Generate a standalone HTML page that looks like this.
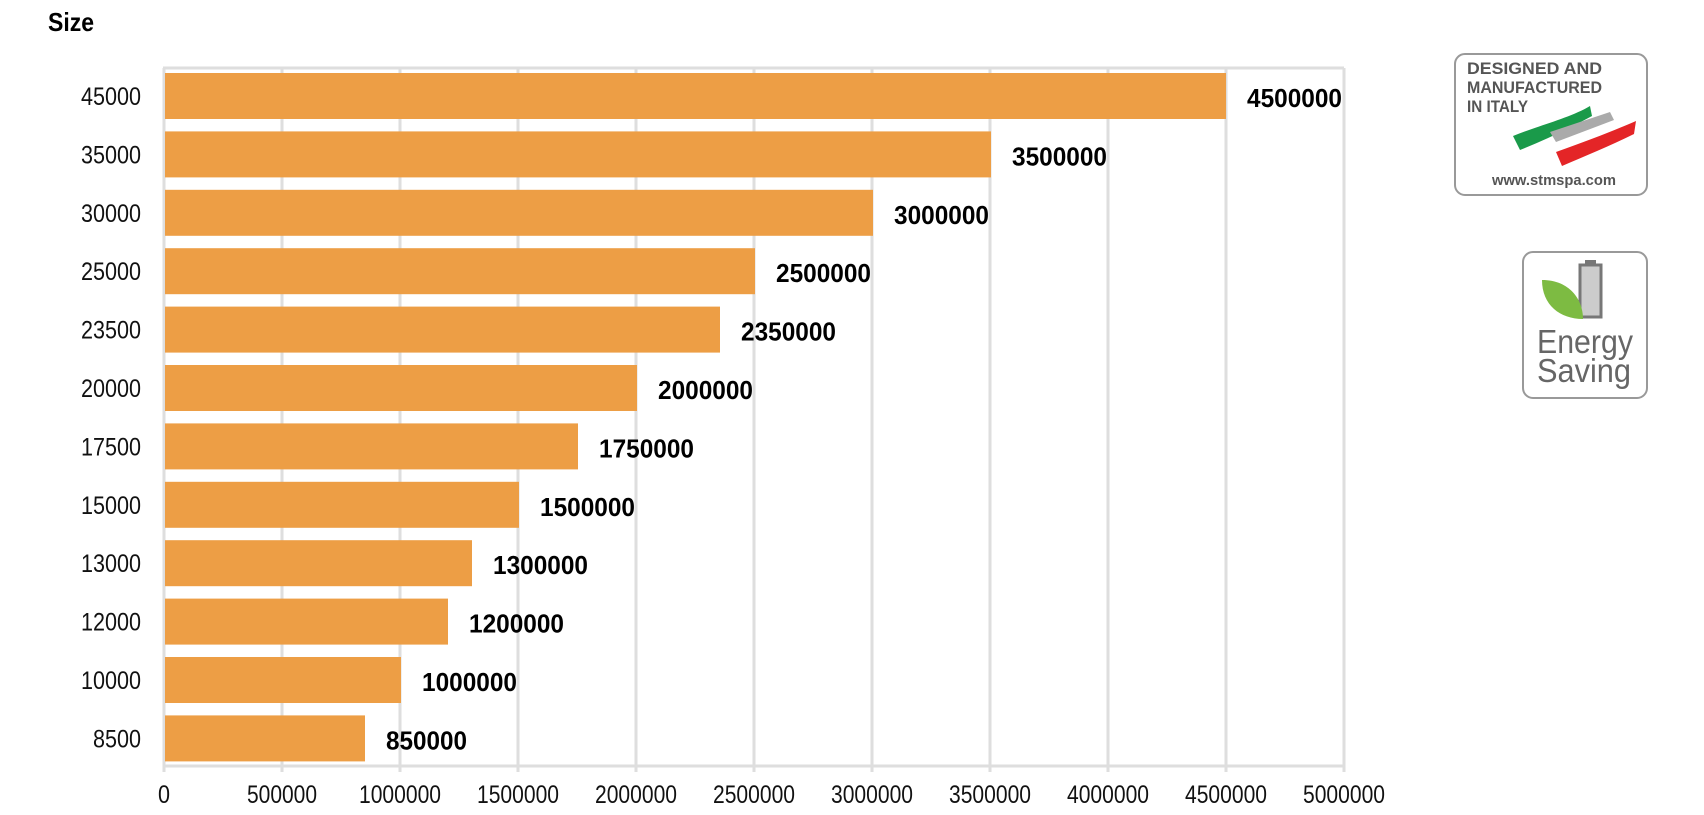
<!DOCTYPE html>
<html><head><meta charset="utf-8"><style>
html,body{margin:0;padding:0;background:#fff;}
svg{display:block;}
text{font-family:"Liberation Sans Narrow","Liberation Sans",sans-serif;}
</style></head><body>
<svg width="1704" height="815" viewBox="0 0 1704 815" xmlns="http://www.w3.org/2000/svg">
<text x="48" y="31" font-size="26" font-weight="bold" textLength="46" lengthAdjust="spacingAndGlyphs">Size</text>
<g stroke="#dedede" stroke-width="3">
<line x1="163" y1="68" x2="1344" y2="68"/>
<line x1="163" y1="766" x2="1344" y2="766"/>
<line x1="164" y1="68" x2="164" y2="772"/>
<line x1="282" y1="68" x2="282" y2="772"/>
<line x1="400" y1="68" x2="400" y2="772"/>
<line x1="518" y1="68" x2="518" y2="772"/>
<line x1="636" y1="68" x2="636" y2="772"/>
<line x1="754" y1="68" x2="754" y2="772"/>
<line x1="872" y1="68" x2="872" y2="772"/>
<line x1="990" y1="68" x2="990" y2="772"/>
<line x1="1108" y1="68" x2="1108" y2="772"/>
<line x1="1226" y1="68" x2="1226" y2="772"/>
<line x1="1344" y1="68" x2="1344" y2="772"/>
</g>
<g fill="#ED9E45">
<rect x="165" y="73" width="1061" height="46"/>
<rect x="165" y="131.4" width="826" height="46"/>
<rect x="165" y="189.8" width="708" height="46"/>
<rect x="165" y="248.2" width="590" height="46"/>
<rect x="165" y="306.6" width="555" height="46"/>
<rect x="165" y="365" width="472" height="46"/>
<rect x="165" y="423.4" width="413" height="46"/>
<rect x="165" y="481.8" width="354" height="46"/>
<rect x="165" y="540.2" width="307" height="46"/>
<rect x="165" y="598.6" width="283" height="46"/>
<rect x="165" y="657" width="236" height="46"/>
<rect x="165" y="715.4" width="200" height="46"/>
</g>
<g font-size="25" fill="#111" lengthAdjust="spacingAndGlyphs">
<text x="81" y="105" textLength="60" lengthAdjust="spacingAndGlyphs">45000</text>
<text x="81" y="163.4" textLength="60" lengthAdjust="spacingAndGlyphs">35000</text>
<text x="81" y="221.8" textLength="60" lengthAdjust="spacingAndGlyphs">30000</text>
<text x="81" y="280.2" textLength="60" lengthAdjust="spacingAndGlyphs">25000</text>
<text x="81" y="338.6" textLength="60" lengthAdjust="spacingAndGlyphs">23500</text>
<text x="81" y="397" textLength="60" lengthAdjust="spacingAndGlyphs">20000</text>
<text x="81" y="455.4" textLength="60" lengthAdjust="spacingAndGlyphs">17500</text>
<text x="81" y="513.8" textLength="60" lengthAdjust="spacingAndGlyphs">15000</text>
<text x="81" y="572.2" textLength="60" lengthAdjust="spacingAndGlyphs">13000</text>
<text x="81" y="630.6" textLength="60" lengthAdjust="spacingAndGlyphs">12000</text>
<text x="81" y="689" textLength="60" lengthAdjust="spacingAndGlyphs">10000</text>
<text x="93" y="747.4" textLength="48" lengthAdjust="spacingAndGlyphs">8500</text>
</g>
<g font-size="26" font-weight="bold" fill="#000">
<text x="1247" y="107" textLength="95" lengthAdjust="spacingAndGlyphs">4500000</text>
<text x="1012" y="165.4" textLength="95" lengthAdjust="spacingAndGlyphs">3500000</text>
<text x="894" y="223.8" textLength="95" lengthAdjust="spacingAndGlyphs">3000000</text>
<text x="776" y="282.2" textLength="95" lengthAdjust="spacingAndGlyphs">2500000</text>
<text x="741" y="340.6" textLength="95" lengthAdjust="spacingAndGlyphs">2350000</text>
<text x="658" y="399" textLength="95" lengthAdjust="spacingAndGlyphs">2000000</text>
<text x="599" y="457.4" textLength="95" lengthAdjust="spacingAndGlyphs">1750000</text>
<text x="540" y="515.8" textLength="95" lengthAdjust="spacingAndGlyphs">1500000</text>
<text x="493" y="574.2" textLength="95" lengthAdjust="spacingAndGlyphs">1300000</text>
<text x="469" y="632.6" textLength="95" lengthAdjust="spacingAndGlyphs">1200000</text>
<text x="422" y="691" textLength="95" lengthAdjust="spacingAndGlyphs">1000000</text>
<text x="386" y="749.4" textLength="81" lengthAdjust="spacingAndGlyphs">850000</text>
</g>
<g font-size="25" fill="#111">
<text x="158" y="803" textLength="12" lengthAdjust="spacingAndGlyphs">0</text>
<text x="247" y="803" textLength="70" lengthAdjust="spacingAndGlyphs">500000</text>
<text x="359" y="803" textLength="82" lengthAdjust="spacingAndGlyphs">1000000</text>
<text x="477" y="803" textLength="82" lengthAdjust="spacingAndGlyphs">1500000</text>
<text x="595" y="803" textLength="82" lengthAdjust="spacingAndGlyphs">2000000</text>
<text x="713" y="803" textLength="82" lengthAdjust="spacingAndGlyphs">2500000</text>
<text x="831" y="803" textLength="82" lengthAdjust="spacingAndGlyphs">3000000</text>
<text x="949" y="803" textLength="82" lengthAdjust="spacingAndGlyphs">3500000</text>
<text x="1067" y="803" textLength="82" lengthAdjust="spacingAndGlyphs">4000000</text>
<text x="1185" y="803" textLength="82" lengthAdjust="spacingAndGlyphs">4500000</text>
<text x="1303" y="803" textLength="82" lengthAdjust="spacingAndGlyphs">5000000</text>
</g>
<rect x="1455" y="54" width="192" height="141" rx="10" fill="#fff" stroke="#999" stroke-width="2"/>
<g font-weight="bold" fill="#555" font-size="17">
<text x="1467" y="74" textLength="135" lengthAdjust="spacingAndGlyphs" style="font-family:'Liberation Sans',sans-serif">DESIGNED AND</text>
<text x="1467" y="93" textLength="135" lengthAdjust="spacingAndGlyphs" style="font-family:'Liberation Sans',sans-serif">MANUFACTURED</text>
<text x="1467" y="112" textLength="61" lengthAdjust="spacingAndGlyphs" style="font-family:'Liberation Sans',sans-serif">IN ITALY</text>
<text x="1492" y="185" font-size="15" textLength="124" lengthAdjust="spacingAndGlyphs" style="font-family:'Liberation Sans',sans-serif">www.stmspa.com</text>
</g>
<path d="M1513 136 C1540 125 1570 118 1590 106 L1592 116 C1570 128 1545 140 1520 150 Z" fill="#1a9a4a"/>
<path d="M1550 132 L1610 112 L1614 120 L1556 142 Z" fill="#aaa"/>
<path d="M1556 152 C1590 140 1615 130 1636 121 L1634 134 C1610 146 1585 156 1562 166 Z" fill="#e42527"/>
<rect x="1523" y="252" width="124" height="146" rx="10" fill="#fff" stroke="#999" stroke-width="2"/>
<rect x="1580" y="265" width="21" height="52" fill="#ccc" stroke="#777" stroke-width="3"/>
<rect x="1585" y="260" width="11" height="5" fill="#777"/>
<path d="M1542 280 C1570 280 1583 300 1583 319 C1560 319 1542 305 1542 280 Z" fill="#7dbb42"/>
<text x="1537" y="353" font-size="33" fill="#666" textLength="96" lengthAdjust="spacingAndGlyphs" style="font-family:'Liberation Sans',sans-serif">Energy</text>
<text x="1537" y="382" font-size="33" fill="#666" textLength="94" lengthAdjust="spacingAndGlyphs" style="font-family:'Liberation Sans',sans-serif">Saving</text>
</svg>
</body></html>
